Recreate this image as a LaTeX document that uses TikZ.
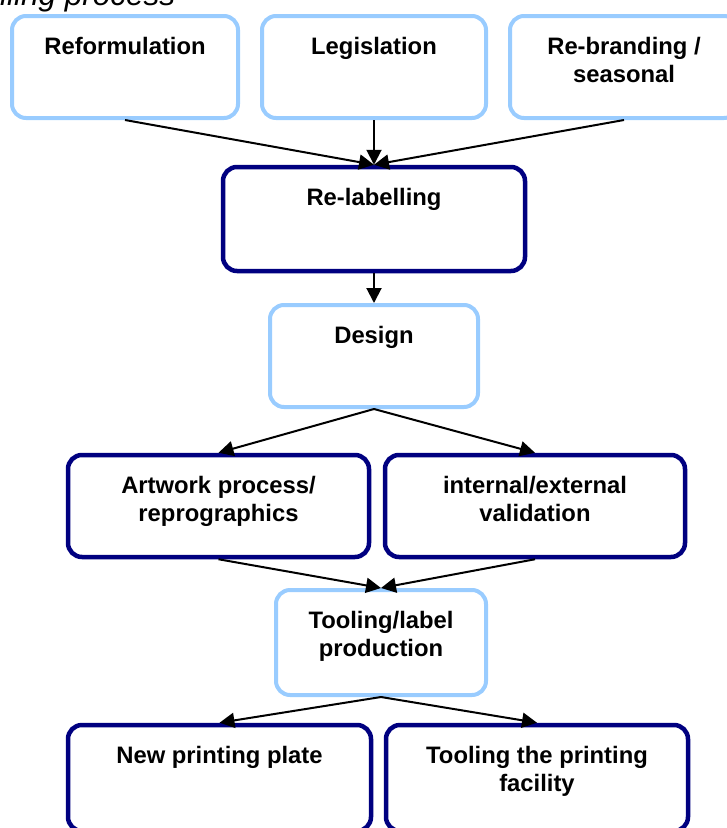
\documentclass[tikz,border=0pt]{standalone}
\usepackage{fontspec}
\setmainfont{Liberation Sans}
\usetikzlibrary{arrows.meta}
\definecolor{lightb}{HTML}{99CCFF}
\definecolor{navyb}{HTML}{000080}
\begin{document}
\begin{tikzpicture}[x=1pt,y=-1pt,
  boxbase/.style={rectangle, rounded corners=14pt, inner sep=0pt, fill=white},
  lightbox/.style={boxbase, draw=lightb, line width=4pt},
  darkbox/.style={boxbase, draw=navyb, line width=4.5pt},
  txt/.style={font=\fontsize{23.8}{28}\selectfont\bfseries, align=center, anchor=north, inner sep=0pt},
  arr/.style={-{Triangle[length=15pt,width=15pt]}, line width=2pt, black},
]
\clip (0,0) rectangle (727,828);
% title (cut off)
\node[font=\fontsize{31.5}{32}\selectfont\itshape, anchor=base west, inner sep=0pt] (title) at (0,5.5) {lling process};
% boxes
\node[lightbox, minimum width=226pt, minimum height=102pt] (ref) at (125,67) {};
\node[lightbox, minimum width=224pt, minimum height=102pt] (leg) at (374,67) {};
\node[lightbox, minimum width=228pt, minimum height=102pt] (reb) at (624,67) {};
\node[darkbox, minimum width=302pt, minimum height=104pt] (rel) at (374,219) {};
\node[lightbox, minimum width=208pt, minimum height=102pt] (des) at (374,356) {};
\node[darkbox, minimum width=301pt, minimum height=102pt] (art) at (218.5,506) {};
\node[darkbox, minimum width=300pt, minimum height=102pt] (val) at (535,506) {};
\node[lightbox, minimum width=210pt, minimum height=105pt] (tool) at (381,642.5) {};
\node[darkbox, minimum width=303pt, minimum height=106pt] (plate) at (219.5,778) {};
\node[darkbox, minimum width=302pt, minimum height=106pt] (fac) at (537,778) {};
% texts
\node[txt] (ref-t) at (125,37) {Reformulation};
\node[txt] (leg-t) at (374,37) {Legislation};
\node[txt] (reb-t) at (624,37) {Re-branding /\\seasonal};
\node[txt] (rel-t) at (374,188) {Re-labelling};
\node[txt] (des-t) at (374,326) {Design};
\node[txt] (art-t) at (218.5,476) {Artwork process/\\reprographics};
\node[txt] (val-t) at (535,476) {internal/external\\validation};
\node[txt] (tool-t) at (381,611) {Tooling/label\\production};
\node[txt] (plate-t) at (219.5,746) {New printing plate};
\node[txt] (fac-t) at (537,746) {Tooling the printing\\facility};
% arrows
\draw[arr] (ref.south) -- (rel.north);
\draw[arr] (leg.south) -- (rel.north);
\draw[arr] (reb.south) -- (rel.north);
\draw[arr] (rel.south) -- (des.north);
\draw[arr] (des.south) -- (art.north);
\draw[arr] (des.south) -- (val.north);
\draw[arr] (art.south) -- (tool.north);
\draw[arr] (val.south) -- (tool.north);
\draw[arr] (tool.south) -- (plate.north);
\draw[arr] (tool.south) -- (fac.north);
\end{tikzpicture}
\end{document}
